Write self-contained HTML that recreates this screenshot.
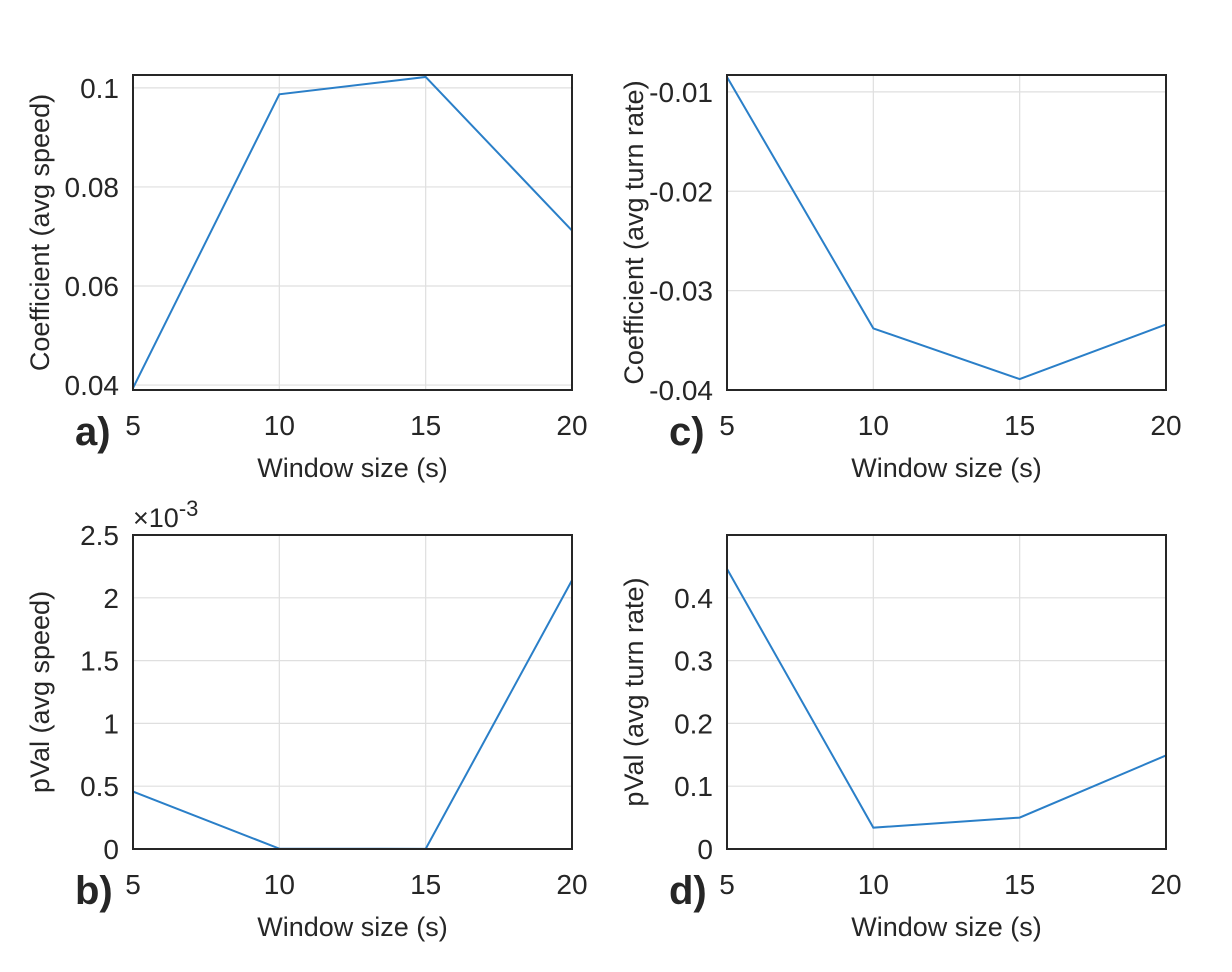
<!DOCTYPE html>
<html><head><meta charset="utf-8"><style>
body{margin:0;background:#fff}
svg text{font-family:"Liberation Sans",Arial,sans-serif;fill:#262626}
</style></head><body>
<svg id="fig" width="1232" height="967" xmlns="http://www.w3.org/2000/svg"></svg>
<script>
const xCats=[5,10,15,20];
const speedCoef=[0.0394,0.0987,0.1022,0.0712];
const turnCoef=[-0.0085,-0.0338,-0.0389,-0.0334];
const speedP=[0.457,0.003,0.001,2.14];
const turnP=[0.446,0.034,0.050,0.149];
const ticksA=[0.04,0.06,0.08,0.1], labelsA=["0.04","0.06","0.08","0.1"];
const ticksC=[-0.04,-0.03,-0.02,-0.01], labelsC=["-0.04","-0.03","-0.02","-0.01"];
const ticksB=[0,0.5,1,1.5,2,2.5], labelsB=["0","0.5","1","1.5","2","2.5"];
const ticksD=[0,0.1,0.2,0.3,0.4], labelsD=["0","0.1","0.2","0.3","0.4"];
const NS='http://www.w3.org/2000/svg';
const svg=document.getElementById('fig');
function mk(tag,attrs,parent){const e=document.createElementNS(NS,tag);for(const k in attrs)e.setAttribute(k,attrs[k]);(parent||svg).appendChild(e);return e;}
function panel(id,x0,y0,x1,y1,ymin,ymax,vals,ticks,labels,ylabel,letter,exp){
  const g=mk('g',{});
  
  
  const xs=v=>x0+(v-5)/15*(x1-x0);
  const ys=v=>y1-(v-ymin)/(ymax-ymin)*(y1-y0);
  xCats.forEach(c=>{
    const l=mk('line',{x1:xs(c),x2:xs(c),y1:y0,y2:y1,stroke:'#dfdfdf','stroke-width':1.2},g);
    
    
    const t=mk('text',{x:xs(c),y:y1+45,'font-size':28,'text-anchor':'middle'},g);
    t.textContent=c;
    
    
  });
  ticks.forEach((v,i)=>{
    const l=mk('line',{x1:x0,x2:x1,y1:ys(v),y2:ys(v),stroke:'#dfdfdf','stroke-width':1.2},g);
    
    
    const t=mk('text',{x:x0-14,y:ys(v)+10,'font-size':28,'text-anchor':'end'},g);
    t.textContent=labels[i];
    
    
  });
  const pts=vals.map((v,i)=>xs(xCats[i])+','+ys(v)).join(' ');
  const pl=mk('polyline',{points:pts,fill:'none',stroke:'#2a7fc8','stroke-width':2},g);
  
  
  const r=mk('rect',{x:x0,y:y0,width:x1-x0,height:y1-y0,fill:'none',stroke:'#262626','stroke-width':2},g);
  
  
  const xl=mk('text',{x:(x0+x1)/2,y:y1+87,'font-size':27,'text-anchor':'middle'},g);
  xl.textContent='Window size (s)';
  
  
  const cy=(y0+y1)/2, cx=x0-84;
  const yl=mk('text',{x:cx,y:cy,'font-size':27,'text-anchor':'middle',transform:`rotate(-90 ${cx} ${cy})`},g);
  yl.textContent=ylabel;
  
  
  const lt=mk('text',{x:x0-58,y:y1+55,'font-size':40,'font-weight':'bold','fill':'#000'},g);
  lt.textContent=letter;
  
  
  if(exp){
    const e=mk('text',{x:x0,y:y0-8,'font-size':27},g);
    e.innerHTML='×10<tspan dy="-11" font-size="22">-3</tspan>';
    
    
  }
}
panel('a',133,75,572,390,0.039,0.1026,speedCoef,ticksA,labelsA,'Coefficient (avg speed)','a)',false);
panel('c',727,75,1166,390,-0.04,-0.0083,turnCoef,ticksC,labelsC,'Coefficient (avg turn rate)','c)',false);
panel('b',133,535,572,849,0,2.5,speedP,ticksB,labelsB,'pVal (avg speed)','b)',true);
panel('d',727,535,1166,849,0,0.5,turnP,ticksD,labelsD,'pVal (avg turn rate)','d)',false);
</script>
</body></html>
